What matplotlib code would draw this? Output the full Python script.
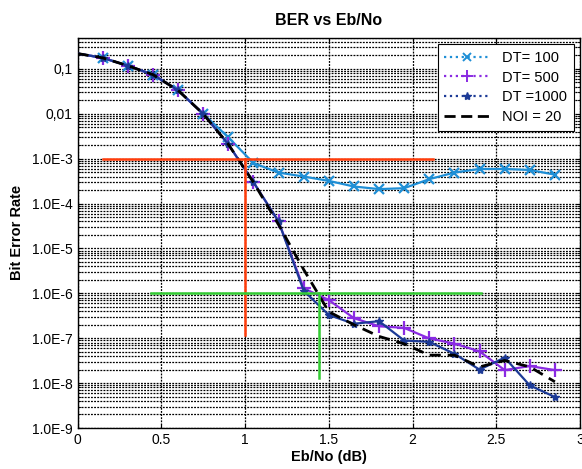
import matplotlib
matplotlib.use("Agg")
import matplotlib.pyplot as plt
from matplotlib.lines import Line2D
from matplotlib.ticker import FixedLocator, LogLocator, NullFormatter

plt.rcParams['font.family'] = ['Liberation Sans', 'DejaVu Sans']

# ---- data ----
ebno = [0.0, 0.15, 0.30, 0.45, 0.60, 0.75, 0.90, 1.05, 1.20, 1.35,
        1.50, 1.65, 1.80, 1.95, 2.10, 2.25, 2.40, 2.55, 2.70, 2.85]

ber_dt100 = [0.22, 0.176, 0.118, 0.0746, 0.0333, 0.0100, 3.0e-3, 8.0e-4, 4.9e-4, 4.0e-4,
             3.2e-4, 2.4e-4, 2.1e-4, 2.2e-4, 3.5e-4, 4.9e-4, 5.9e-4, 5.9e-4, 5.6e-4, 4.4e-4]

ber_dt500 = [0.22, 0.176, 0.118, 0.0746, 0.0333, 0.0100, 2.1e-3, 3.0e-4, 4.0e-5, 1.3e-6,
             7.1e-7, 2.8e-7, 1.85e-7, 1.7e-7, 9.9e-8, 7.6e-8, 5.1e-8, 1.95e-8, 2.4e-8, 1.95e-8]

ber_dt1000 = [0.22, 0.176, 0.118, 0.0746, 0.0333, 0.0100, 2.1e-3, 3.0e-4, 4.0e-5, 1.15e-6,
              3.3e-7, 2.1e-7, 2.4e-7, 8.9e-8, 8.3e-8, 4.5e-8, 2.0e-8, 3.7e-8, 8.9e-9, 4.9e-9]

ber_noi20 = [0.22, 0.176, 0.118, 0.0746, 0.0333, 0.0100, 2.1e-3, 3.0e-4, 3.4e-5, 3.4e-6,
             3.9e-7, 2.0e-7, 1.1e-7, 7.5e-8, 4.2e-8, 4.2e-8, 2.3e-8, 3.2e-8, 2.3e-8, 1.07e-8]

series_labels = ["DT= 100", "DT= 500", "DT =1000", "NOI = 20"]

# reference lines
ref_red_h_x = [0.15, 2.12]
ref_red_h_y = [1e-3, 1e-3]
ref_red_v_x = [1.0, 1.0]
ref_red_v_y = [1e-3, 1.2e-7]
ref_green_h_x = [0.44, 2.41]
ref_green_h_y = [1e-6, 1e-6]
ref_green_v_x = [1.44, 1.44]
ref_green_v_y = [1e-6, 1.3e-8]

xticks = [0, 0.5, 1, 1.5, 2, 2.5, 3]
xtick_labels = ["0", "0.5", "1", "1.5", "2", "2.5", "3"]
yticks = [1e-9, 1e-8, 1e-7, 1e-6, 1e-5, 1e-4, 1e-3, 1e-2, 1e-1]
ytick_labels = ["1.0E-9", "1.0E-8", "1.0E-7", "1.0E-6", "1.0E-5", "1.0E-4", "1.0E-3", "0,01", "0,1"]

c100 = "#1f8fd6"
c500 = "#8a2be2"
c1000 = "#1c3a96"
cred = "#ff3c0a"
cgreen = "#33cc33"

fig = plt.figure(figsize=(5.82, 4.69), dpi=100)
ax = fig.add_axes([0.1332, 0.0874, 0.8634, 0.8326])

ax.set_yscale('log')
ax.set_xlim(0, 3)
ax.set_ylim(1e-9, 0.5)

ms = dict(markevery=slice(1, None))
ax.plot(ebno, ber_dt100, color=c100, lw=1.6, marker='x', ms=7, mew=1.6, **ms, zorder=3)
ax.plot(ebno, ber_dt500, color=c500, lw=1.6, marker='+', ms=10, mew=1.6, **ms, zorder=3)
ax.plot(ebno, ber_dt1000, color=c1000, lw=1.6, marker='*', ms=6, mew=1.0, **ms, zorder=3)
ax.plot(ebno, ber_noi20, color='black', lw=2.0, ls=(0, (4, 2.5)), zorder=4)

ax.plot(ref_red_h_x, ref_red_h_y, color=cred, lw=1.8, zorder=5)
ax.plot(ref_red_v_x, ref_red_v_y, color=cred, lw=1.8, zorder=5)
ax.plot(ref_green_h_x, ref_green_h_y, color=cgreen, lw=1.8, zorder=5)
ax.plot(ref_green_v_x, ref_green_v_y, color=cgreen, lw=1.8, zorder=5)

ax.xaxis.set_major_locator(FixedLocator(xticks))
ax.set_xticklabels(xtick_labels)
ax.yaxis.set_major_locator(FixedLocator(yticks))
ax.set_yticklabels(ytick_labels)
ax.yaxis.set_minor_locator(LogLocator(base=10, subs=range(2, 10), numticks=20))
ax.yaxis.set_minor_formatter(NullFormatter())

ax.tick_params(which='both', direction='in', top=True, right=True, labelsize=10, colors='black')
ax.tick_params(which='major', length=3)
ax.tick_params(which='minor', length=2)

ax.grid(True, which='major', axis='both', color='black', ls=(0, (1.5, 1)), lw=0.9)
ax.grid(True, which='minor', axis='y', color='black', ls=(0, (1.5, 1)), lw=0.9)
for s in ax.spines.values():
    s.set_linewidth(1.0)

ax.set_title("BER vs Eb/No", fontsize=11.5, fontweight='bold', pad=9)
ax.set_xlabel("Eb/No (dB)", fontsize=10.5, fontweight='bold', labelpad=2)
ax.set_ylabel("Bit Error Rate", fontsize=10.5, fontweight='bold', labelpad=6)

handles = [
    Line2D([], [], color=c100, lw=1.6, ls=':', marker='x', ms=6, mew=1.4),
    Line2D([], [], color=c500, lw=1.6, ls=':', marker='+', ms=8, mew=1.4),
    Line2D([], [], color=c1000, lw=1.6, ls=':', marker='*', ms=6),
    Line2D([], [], color='black', lw=2.0, ls=(0, (4, 2))),
]
leg = ax.legend(handles, series_labels, loc='upper right', bbox_to_anchor=(0.988, 0.983),
                borderaxespad=0, fontsize=10.5, fancybox=False, framealpha=1,
                edgecolor='black', handlelength=3.2, labelspacing=0.4, borderpad=0.45)
leg.get_frame().set_linewidth(0.8)
leg.set_zorder(10)

fig.savefig("out.png", dpi=100)
